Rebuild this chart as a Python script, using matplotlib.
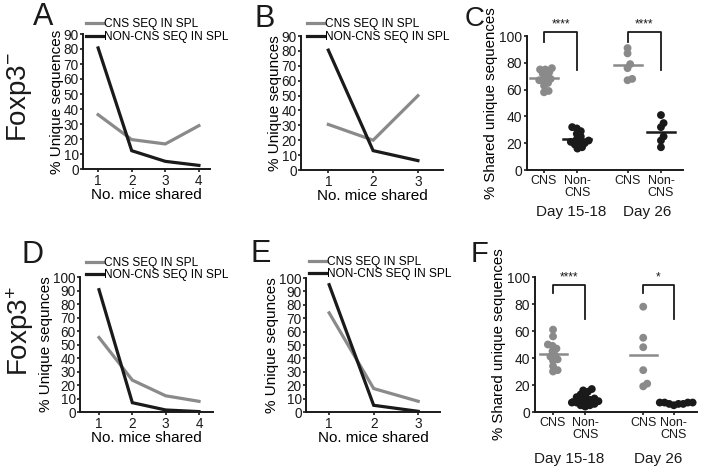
import matplotlib
matplotlib.use('Agg')
import matplotlib.pyplot as plt
import matplotlib.transforms as mtrans
import numpy as np

plt.rcParams['font.family'] = ['Liberation Sans', 'DejaVu Sans']
plt.rcParams['mathtext.fontset'] = 'custom'
plt.rcParams['mathtext.rm'] = 'Liberation Sans'
plt.rcParams['mathtext.default'] = 'regular'

# ---------------- data ----------------
legend_labels = ['CNS SEQ IN SPL', 'NON-CNS SEQ IN SPL']

A_x = [1, 2, 3, 4]
A_cns = [36.2, 19.6, 16.7, 28.9]
A_non = [80.7, 12.2, 5.1, 2.4]

B_x = [1, 2, 3]
B_cns = [30.6, 20.0, 49.9]
B_non = [80.5, 13.0, 6.3]

D_x = [1, 2, 3, 4]
D_cns = [55.2, 23.6, 12.0, 7.9]
D_non = [90.6, 6.9, 1.5, 0.3]

E_x = [1, 2, 3]
E_cns = [74.0, 17.5, 8.0]
E_non = [95.0, 5.0, 0.5]

group_labels = ['CNS', 'Non-\nCNS', 'CNS', 'Non-\nCNS']
day_labels = ['Day 15-18', 'Day 26']

C_cns_d15 = [76, 75, 75, 73, 72, 70, 68, 67, 67, 65, 63, 59, 58]
C_non_d15 = [32, 31, 29, 27, 25, 23, 22, 21, 20, 20, 19, 17, 16]
C_cns_d26 = [91, 87, 79, 76, 68, 67]
C_non_d26 = [41, 35, 32, 25, 22, 17]
C_sig = ['****', '****']

F_cns_d15 = [61, 56, 50, 49, 47, 45, 42, 41, 39, 38, 34, 31, 30]
F_non_d15 = [17, 16, 15, 13, 12, 11, 10, 9, 9, 8, 8, 7, 7, 6, 5, 5, 4]
F_cns_d26 = [78, 55, 48, 31, 21, 19]
F_non_d26 = [7, 7, 6, 6, 5, 6, 7, 7]
F_sig = ['****', '*']

GRAY = '#8a8a8a'
BLACK = '#1a1a1a'

W, H = 704, 473
fig = plt.figure(figsize=(W / 100, H / 100), dpi=100)


def add_ax(l, r, t, b):
    return fig.add_axes([l / W, 1 - b / H, (r - l) / W, (b - t) / H])


def style_ax(ax, labelsize):
    for s in ['top', 'right']:
        ax.spines[s].set_visible(False)
    for s in ['left', 'bottom']:
        ax.spines[s].set_linewidth(1.4)
        ax.spines[s].set_color(BLACK)
    ax.tick_params(axis='both', direction='out', length=2.5, width=1.2,
                   labelsize=labelsize, pad=1, colors=BLACK)


def line_panel(ax, x, cns, non, ymax, xlim, ylabel, legend_xy):
    l1, = ax.plot(x, cns, color=GRAY, lw=2.3, solid_joinstyle='miter')
    l2, = ax.plot(x, non, color=BLACK, lw=2.3, solid_joinstyle='miter')
    ax.set_xlim(*xlim)
    ax.set_ylim(0, ymax)
    ax.set_yticks(range(0, ymax + 1, 10))
    ax.set_xticks(x)
    style_ax(ax, 9.8)
    ax.tick_params(axis='y', pad=0.5)
    ax.set_ylabel(ylabel, fontsize=11, labelpad=0)
    ax.set_xlabel('No. mice shared', fontsize=11, labelpad=0)
    fig.legend([l1, l2], legend_labels, loc='upper left',
               bbox_to_anchor=(legend_xy[0] / W, 1 - legend_xy[1] / H),
               bbox_transform=fig.transFigure, frameon=False,
               fontsize=8.6, handlelength=1.4, handletextpad=0.1,
               labelspacing=0.02, borderpad=0, borderaxespad=0)


def swarm_x(ax, xc, ys, d_px):
    ys = np.asarray(ys, dtype=float)
    pts = ax.transData.transform(np.column_stack([np.full(len(ys), xc), ys]))
    ypx = pts[:, 1]
    x0 = pts[0, 0]
    order = np.argsort(ypx)
    placed = []
    offs = np.zeros(len(ys))
    for i in order:
        y = ypx[i]
        cands = [0.0]
        for px, py in placed:
            dy = y - py
            if abs(dy) < d_px:
                dx = np.sqrt(d_px ** 2 - dy ** 2)
                cands += [px + dx, px - dx]
        cands.sort(key=abs)
        for c in cands:
            if all((c - px) ** 2 + (y - py) ** 2 >= d_px ** 2 - 1e-6 for px, py in placed):
                offs[i] = c
                break
        placed.append((offs[i], y))
    inv = ax.transData.inverted()
    return inv.transform(np.column_stack([x0 + offs, ypx]))[:, 0]


def scatter_panel(ax, positions, groups, xlim, sig, br_top, br_left, br_right,
                  star_y, day_x, day_y):
    ax.set_xlim(*xlim)
    ax.set_ylim(0, 100)
    ax.set_yticks(range(0, 101, 20))
    ax.set_xticks(positions)
    style_ax(ax, 10)
    ax.set_xticklabels(group_labels, fontsize=9, linespacing=1.0)
    colors = [GRAY, BLACK, GRAY, BLACK]
    for pos, vals, col in zip(positions, groups, colors):
        xs = swarm_x(ax, pos, vals, 4.8)
        ax.scatter(xs, vals, s=32, color=col, edgecolors='none', zorder=3,
                   clip_on=False)
        m = np.mean(vals)
        ax.plot([pos - 0.42, pos + 0.42], [m, m], color=col, lw=1.8, zorder=4)
    for k in range(2):
        x1, x2 = positions[2 * k], positions[2 * k + 1]
        ax.plot([x1, x1, x2, x2], [br_left, br_top, br_top, br_right],
                color=BLACK, lw=1.3, clip_on=False)
        ax.text((x1 + x2) / 2, star_y, sig[k], ha='center', va='bottom',
                fontsize=8.5, color=BLACK, clip_on=False)
    ax.set_ylabel('% Shared unique sequences', fontsize=10.8, labelpad=1)
    tr = mtrans.blended_transform_factory(ax.transData, ax.transAxes)
    for k in range(2):
        ax.text(day_x[k], day_y, day_labels[k], transform=tr, ha='center',
                va='center', fontsize=11, color=BLACK)


# ---------------- panels ----------------
axA = add_ax(83, 210, 34, 169)
line_panel(axA, A_x, A_cns, A_non, 90, (0.55, 4.33), '% Unique sequences', (86, 18.5))

axB = add_ax(301, 443, 36, 170)
line_panel(axB, B_x, B_cns, B_non, 90, (0.39, 3.56), '% Unique sequnces', (307, 18.5))

axD = add_ax(80, 213, 277, 412)
line_panel(axD, D_x, D_cns, D_non, 100, (0.43, 4.42), '% Unique sequnces', (86, 257))

axE = add_ax(306, 440, 278, 412)
line_panel(axE, E_x, E_cns, E_non, 100, (0.48, 3.49), '% Unique sequnces', (309, 256))

axC = add_ax(527, 683, 36, 170)
scatter_panel(axC, [1, 2, 3.5, 4.5], [C_cns_d15, C_non_d15, C_cns_d26, C_non_d26],
              (0.49, 5.16), C_sig, 102.8, 95.5, 75, 104.5, (1.8, 4.1), -0.31)

axF = add_ax(535, 697, 277, 412)
scatter_panel(axF, [1, 2, 3.8, 4.75], [F_cns_d15, F_non_d15, F_cns_d26, F_non_d26],
              (0.44, 5.47), F_sig, 94, 88, 68.6, 95.5, (1.5, 4.28), -0.35)

# panel letters
for txt, (x, y, fs) in zip('ABCDEF', [(43, 17, 22), (265, 19, 22), (475, 19, 20),
                                        (33, 255, 22), (261, 254, 22), (480, 254, 21)]):
    fig.text(x / W, 1 - y / H, txt, fontsize=fs, ha='center', va='center',
             color=BLACK)

fig.text(20 / W, 1 - 97 / H, 'Foxp3$^{-}$', rotation=90, fontsize=20,
         ha='center', va='center', color=BLACK)
fig.text(20 / W, 1 - 331 / H, 'Foxp3$^{+}$', rotation=90, fontsize=20,
         ha='center', va='center', color=BLACK)

fig.savefig('out.png', dpi=100)
